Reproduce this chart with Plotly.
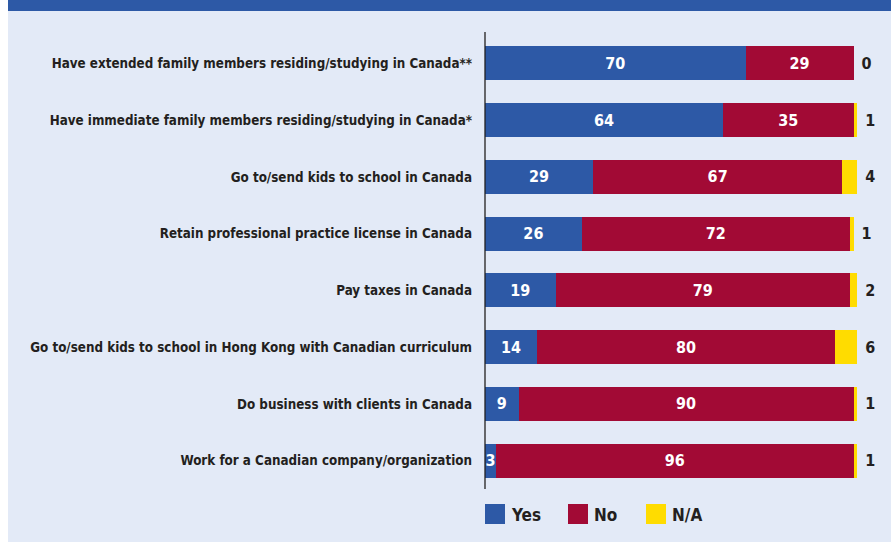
import plotly.graph_objects as go

categories = [
    "Have extended family members residing/studying in Canada**",
    "Have immediate family members residing/studying in Canada*",
    "Go to/send kids to school in Canada",
    "Retain professional practice license in Canada",
    "Pay taxes in Canada",
    "Go to/send kids to school in Hong Kong with Canadian curriculum",
    "Do business with clients in Canada",
    "Work for a Canadian company/organization",
]
yes_vals = [70, 64, 29, 26, 19, 14, 9, 3]
no_vals = [29, 35, 67, 72, 79, 80, 90, 96]
na_vals = [0, 1, 4, 1, 2, 6, 1, 1]
series_names = ["Yes", "No", "N/A"]
series_colors = ["#2d59a6", "#a20a35", "#ffdc00"]

W, H = 893, 542
ML, MR, MT, MB = 485, 6, 35, 53
PW, PH = W - ML - MR, H - MT - MB
FONT = "DejaVu Sans Condensed, Liberation Sans Narrow, sans-serif"
BG = "#e3eaf7"
DARK = "#231f20"

def px_x(x):
    return (x - ML) / PW

def px_y(y):
    return 1 - (y - MT) / PH

fig = go.Figure()
for name, vals, col in zip(series_names, [yes_vals, no_vals, na_vals], series_colors):
    if name == "N/A":
        fig.add_trace(go.Bar(
            y=categories, x=vals, orientation="h", name=name, marker_color=col,
            marker_line_width=0, text=vals, texttemplate=" %{x}",
            textposition="outside", textangle=0, constraintext="none",
            cliponaxis=False, hoverinfo="skip",
            outsidetextfont=dict(family=FONT, size=16, color=DARK, weight="bold"),
        ))
    else:
        fig.add_trace(go.Bar(
            y=categories, x=vals, orientation="h", name=name, marker_color=col,
            marker_line_width=0, text=vals, texttemplate="%{x}",
            textposition="inside", insidetextanchor="middle", textangle=0,
            constraintext="none", hoverinfo="skip",
            insidetextfont=dict(family=FONT, size=16, color="white", weight="bold"),
        ))

shapes = [
    dict(type="rect", xref="paper", yref="paper", x0=px_x(0), x1=px_x(8),
         y0=px_y(H), y1=px_y(0), fillcolor="white", line_width=0, layer="below"),
    dict(type="rect", xref="paper", yref="paper", x0=px_x(891), x1=px_x(W),
         y0=px_y(H), y1=px_y(0), fillcolor="white", line_width=0, layer="below"),
    dict(type="rect", xref="paper", yref="paper", x0=px_x(8), x1=px_x(891),
         y0=px_y(11), y1=px_y(0), fillcolor="#2d59a6", line_width=0, layer="below"),
    dict(type="line", xref="paper", yref="paper", x0=0, x1=0,
         y0=px_y(489), y1=px_y(32), line=dict(color=DARK, width=1.3)),
]
annotations = []
leg_x = [485, 568, 646]
for name, col, lx in zip(series_names, series_colors, leg_x):
    shapes.append(dict(type="rect", xref="paper", yref="paper",
                       x0=px_x(lx), x1=px_x(lx + 20), y0=px_y(524), y1=px_y(504),
                       fillcolor=col, line_width=0))
    annotations.append(dict(xref="paper", yref="paper", x=px_x(lx + 24), y=px_y(515),
                            text=name, showarrow=False, xanchor="left", yanchor="middle",
                            font=dict(family=FONT, size=17, color=DARK, weight="bold")))

fig.update_layout(
    barmode="stack", bargap=0.4, width=W, height=H,
    margin=dict(l=ML, r=MR, t=MT, b=MB, pad=0),
    paper_bgcolor=BG, plot_bgcolor=BG, showlegend=False,
    shapes=shapes, annotations=annotations,
    font=dict(family=FONT, color=DARK),
)
fig.update_xaxes(range=[0, 108], visible=False, showgrid=False, zeroline=False)
fig.update_yaxes(autorange="reversed", showgrid=False, zeroline=False, showline=False,
                 ticks="", ticklabelstandoff=12,
                 tickfont=dict(family=FONT, size=13.3, color=DARK, weight="bold"))

fig.write_html("out.html", config={"displayModeBar": False},
               post_script="document.body.style.margin='0';")
